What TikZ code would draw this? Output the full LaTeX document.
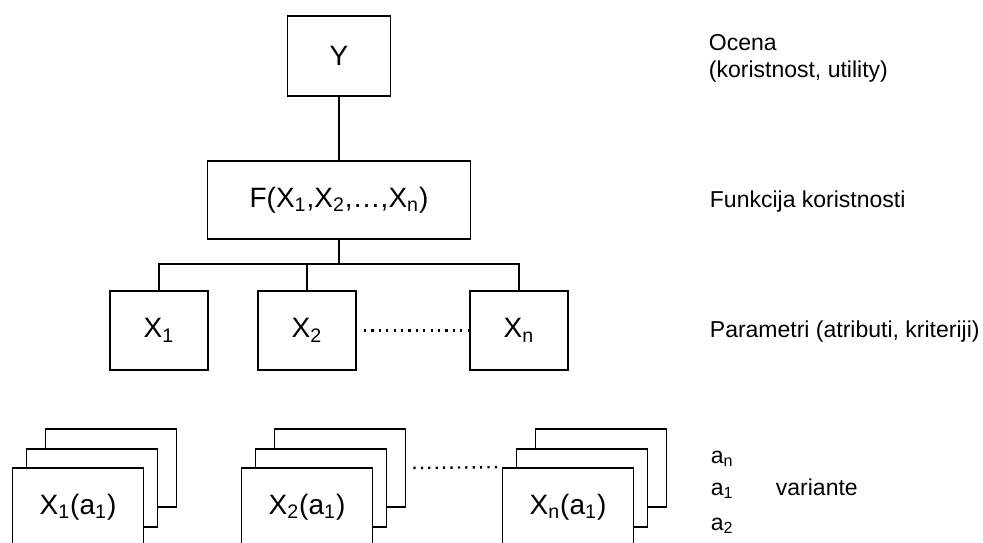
\documentclass[tikz,border=0pt]{standalone}
\usepackage{fontspec}
\setmainfont{Liberation Sans}
\tikzset{box/.style = {draw, fill = white, inner sep = 0, font = \fontsize{14}{16}\selectfont}}
\tikzset{card/.style = {box, minimum width = 65.5pt, minimum height = 39pt}}
\tikzset{lbl/.style = {anchor = base west, inner sep = 0, font = \fontsize{11.5}{14}\selectfont}}
\tikzset{dots/.style = {line width = 1.2pt, dash pattern = on 1.1pt off 2.6pt}}

\begin{document}
\begin{tikzpicture}[x = 0.5pt, y = -0.5pt, line width = 0.9pt]
    \useasboundingbox (0, 0) rectangle (983, 542);
    \clip (0, 0) rectangle (983, 542);
    % tree
    \node [box, minimum width = 51.5pt, minimum height = 40pt] (y) at (339, 56) {Y};
    \node [box, minimum width = 131.5pt, minimum height = 39pt] (f) at (339, 200)
        {F(X\textsubscript{1},X\textsubscript{2},\dots,X\textsubscript{n})};
    \node [box, minimum width = 49pt, minimum height = 39.5pt] (x1) at (159, 330.5) {X\textsubscript{1}};
    \node [box, minimum width = 49pt, minimum height = 39.5pt] (x2) at (307, 330.5) {X\textsubscript{2}};
    \node [box, minimum width = 49pt, minimum height = 39.5pt] (xn) at (519, 330.5) {X\textsubscript{n}};
    \coordinate (split) at (339, 264);
    \draw (y) -- (f);
    \draw (f) -- (split);
    \draw (x1.north) |- (split) -| (xn.north);
    \draw (x2.north) -- (x2.north |- split);
    \draw [dots, shorten <= 3.5pt] (x2) -- (xn);
    % stacked variants
    \foreach \name/\cx/\sub in {x1a/78/1, x2a/307/2, xna/568/n} {
        \node [card] (\name-3) at (\cx + 33, 468) {};
        \node [card] (\name-2) at (\cx + 14, 488) {};
        \node [card] (\name) at (\cx, 507) {X\textsubscript{\sub}(a\textsubscript{1})};
    }
    \draw [dots, shorten <= 3.5pt, shorten >= 1.5pt] (x2a-3.east) -- (xna.north west);
    % labels
    \node [lbl] (ocena) at (708, 50) {Ocena};
    \node [lbl] (util) at (708, 77) {(koristnost, utility)};
    \node [lbl] (funk) at (709, 207) {Funkcija koristnosti};
    \node [lbl] (param) at (709, 337) {Parametri (atributi, kriteriji)};
    \node [lbl] (an) at (710, 463) {a\textsubscript{n}};
    \node [lbl] (a1) at (710, 495) {a\textsubscript{1}};
    \node [lbl] (a2) at (710, 530) {a\textsubscript{2}};
    \node [lbl] (var) at (775, 495) {variante};
\end{tikzpicture}
\end{document}
